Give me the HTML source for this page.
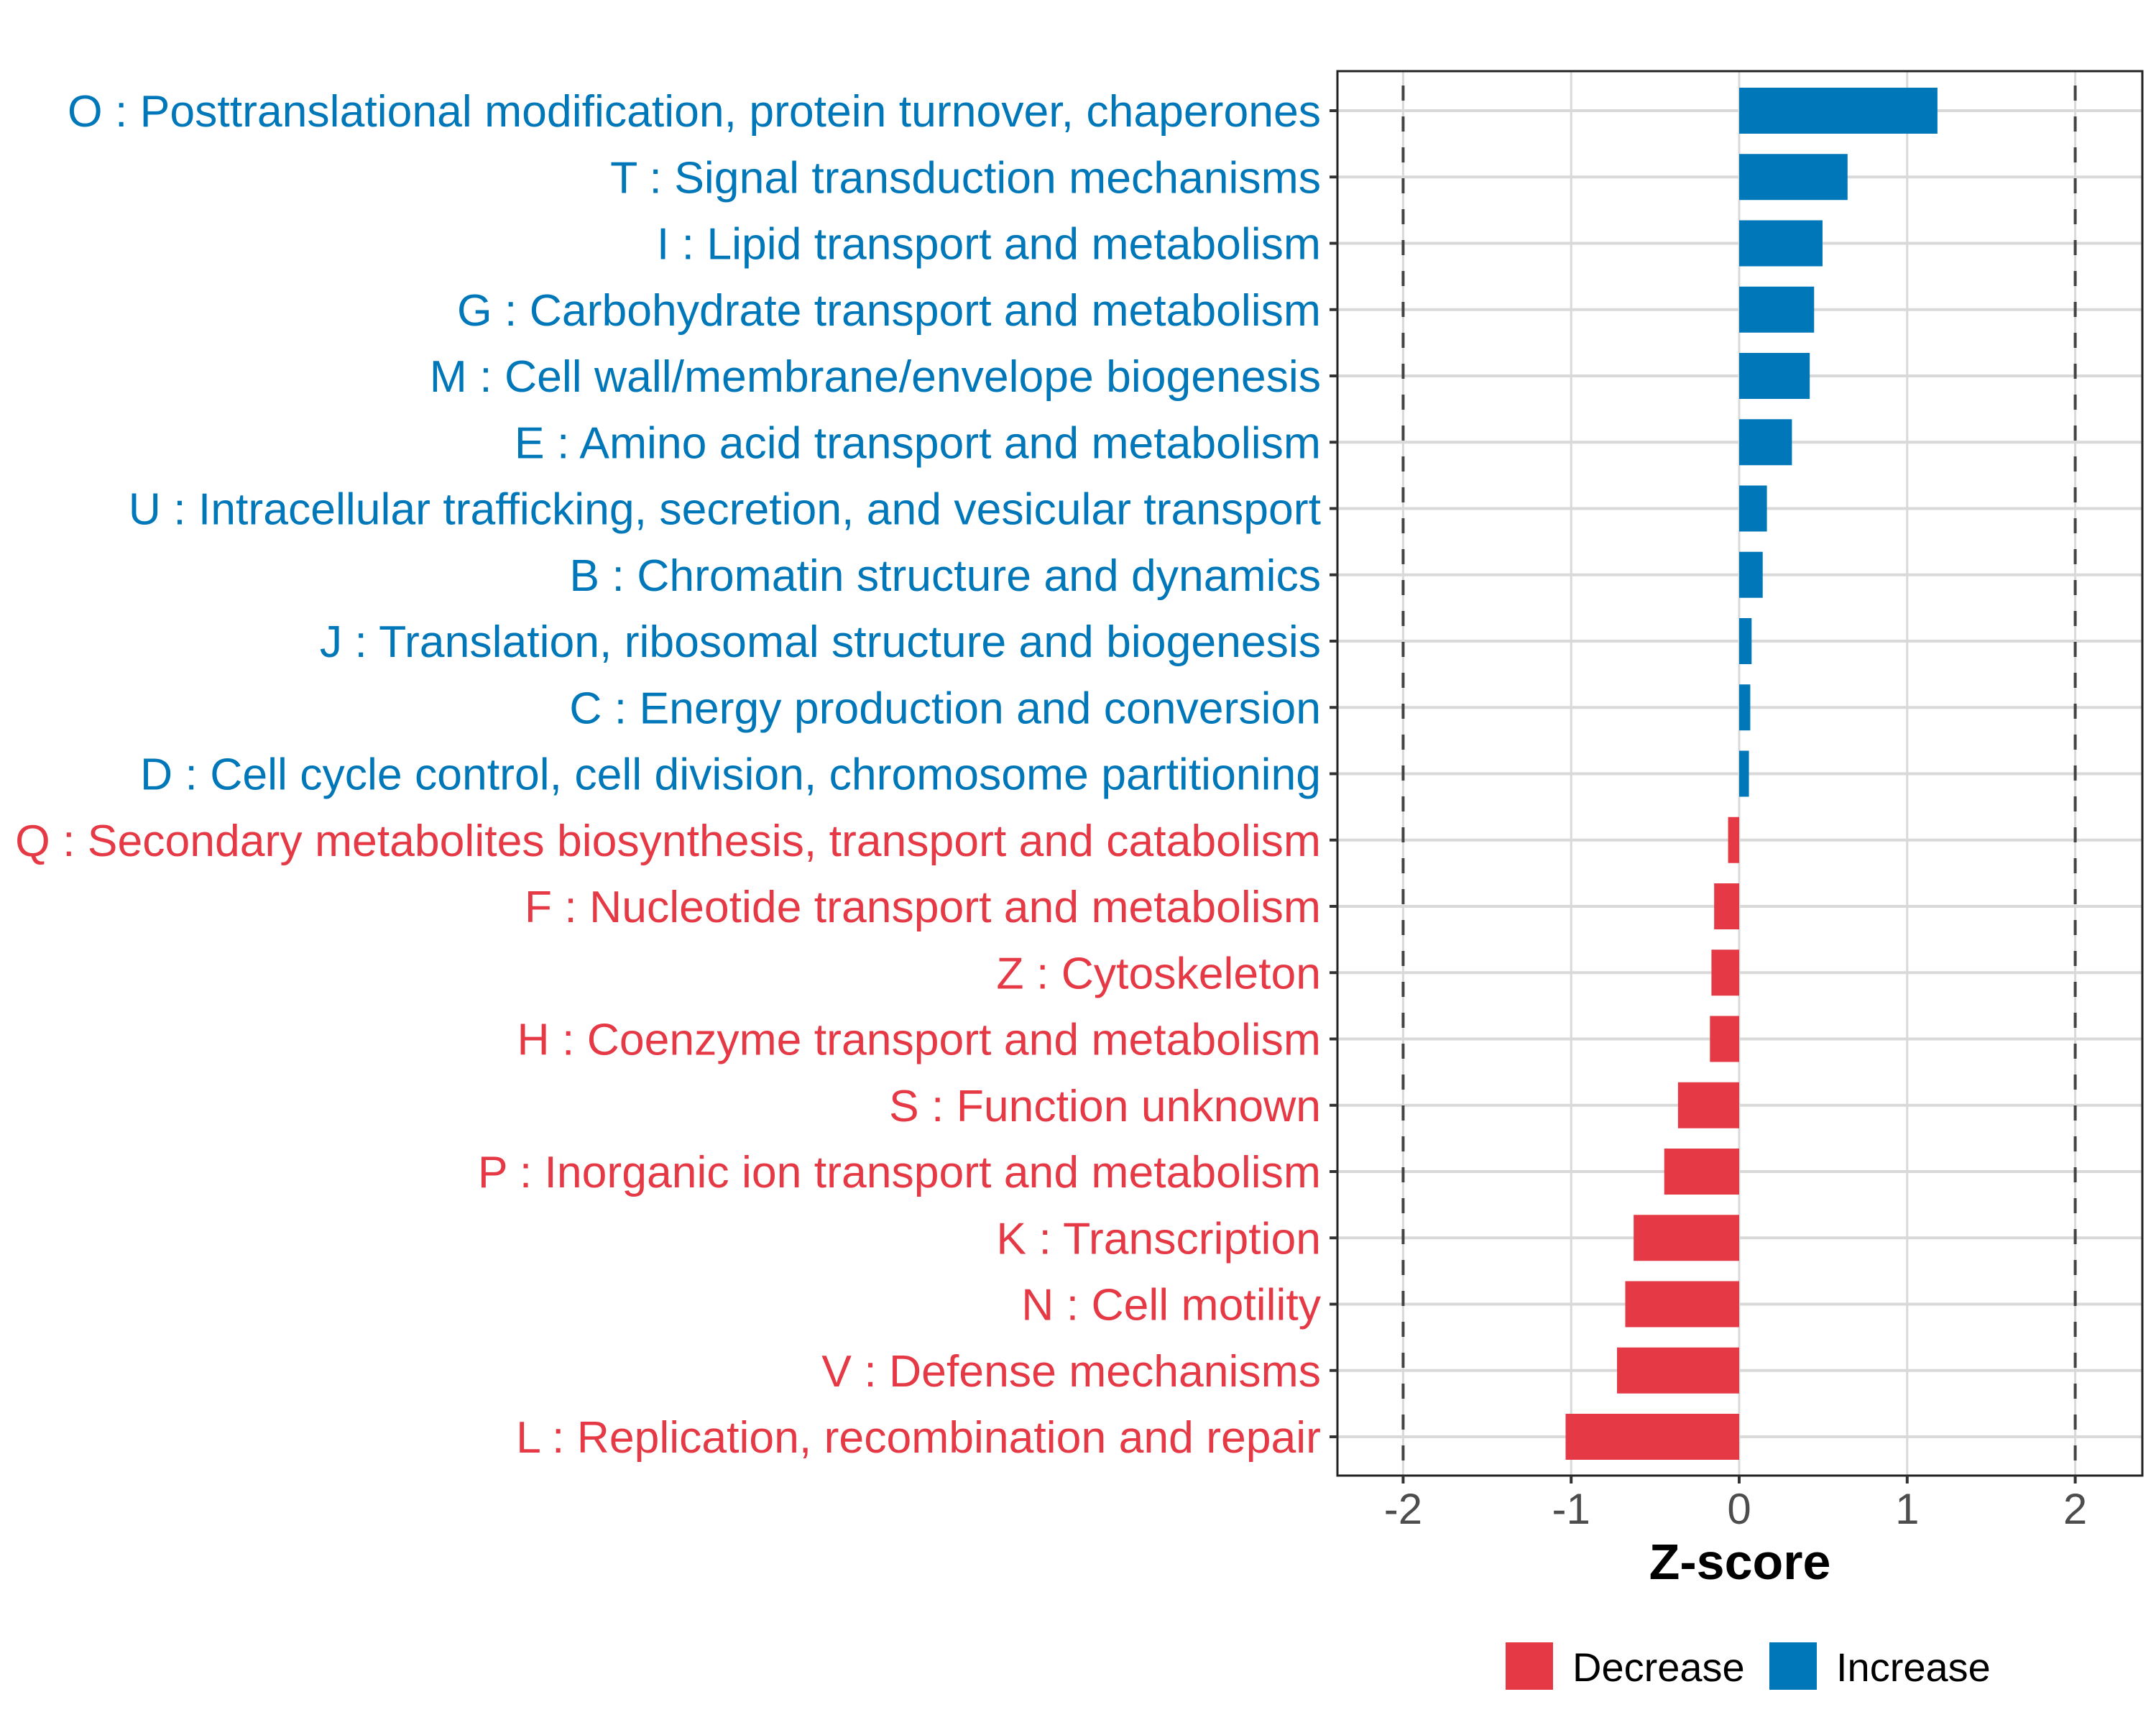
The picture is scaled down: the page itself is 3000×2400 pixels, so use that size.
<!DOCTYPE html>
<html><head><meta charset="utf-8"><style>
html,body{margin:0;padding:0;background:#fff;}
svg{display:block;font-family:"Liberation Sans",Arial,sans-serif;}
</style></head><body>
<svg id="chart" width="3000" height="2400" viewBox="0 0 3000 2400" xmlns="http://www.w3.org/2000/svg">
<rect x="0" y="0" width="3000" height="2400" fill="#fff"/>
<g id="grid"></g>
<g id="bars"></g>
<g id="refs"></g>
<rect x="1861" y="99" width="1120" height="1954" fill="none" stroke="#222" stroke-width="3"/>
<g id="ylabels"></g>
<g id="xticks"></g>
<text x="2421" y="2197" font-size="70" font-weight="bold" text-anchor="middle" fill="#000">Z-score</text>
<g>
<rect x="2095" y="2285" width="66" height="66" fill="#E63946"/>
<text x="2188" y="2339" font-size="56" fill="#000">Decrease</text>
<rect x="2462" y="2285" width="66" height="66" fill="#0077B8"/>
<text x="2555" y="2339" font-size="56" fill="#000">Increase</text>
</g>
</svg>
<script>
const categories = ["O : Posttranslational modification, protein turnover, chaperones","T : Signal transduction mechanisms","I : Lipid transport and metabolism","G : Carbohydrate transport and metabolism","M : Cell wall/membrane/envelope biogenesis","E : Amino acid transport and metabolism","U : Intracellular trafficking, secretion, and vesicular transport","B : Chromatin structure and dynamics","J : Translation, ribosomal structure and biogenesis","C : Energy production and conversion","D : Cell cycle control, cell division, chromosome partitioning","Q : Secondary metabolites biosynthesis, transport and catabolism","F : Nucleotide transport and metabolism","Z : Cytoskeleton","H : Coenzyme transport and metabolism","S : Function unknown","P : Inorganic ion transport and metabolism","K : Transcription","N : Cell motility","V : Defense mechanisms","L : Replication, recombination and repair"];
const zscores = [1.18,0.645,0.496,0.446,0.42,0.314,0.165,0.14,0.074,0.066,0.058,-0.066,-0.149,-0.165,-0.174,-0.364,-0.446,-0.628,-0.678,-0.727,-1.033];
const xTicks = [-2,-1,0,1,2];
const xTickLabels = ["-2","-1","0","1","2"];
const refLines = [-2,2];

const NS="http://www.w3.org/2000/svg";
const X0=2420, UNIT=233.8, Y0=154, STEP=92.25, BARH=64;
const xs=v=>X0+v*UNIT;
const ys=i=>Y0+i*STEP;
function mk(tag,attrs,parent){const e=document.createElementNS(NS,tag);for(const k in attrs)e.setAttribute(k,attrs[k]);parent.appendChild(e);return e;}
const grid=document.getElementById('grid'),bars=document.getElementById('bars'),refs=document.getElementById('refs'),yl=document.getElementById('ylabels'),xt=document.getElementById('xticks');
xTicks.forEach((t,i)=>{
  const l=mk('line',{x1:xs(t),x2:xs(t),y1:99,y2:2053,stroke:'#d9d9d9','stroke-width':3},grid);
  
  
  const tk=mk('line',{x1:xs(t),x2:xs(t),y1:2053,y2:2064,stroke:'#333','stroke-width':4},xt);
  
  
  const tx=mk('text',{x:xs(t),y:2120,'font-size':60,'text-anchor':'middle',fill:'#4d4d4d'},xt);
  tx.textContent=xTickLabels[i];
  
  
});
categories.forEach((c,i)=>{
  const y=ys(i);
  const g=mk('line',{x1:1861,x2:2981,y1:y,y2:y,stroke:'#d9d9d9','stroke-width':4},grid);
  
  
  const v=zscores[i];
  const col=v>=0?'#0077B8':'#E63946';
  const r=mk('rect',{x:Math.min(xs(0),xs(v)),y:y-BARH/2,width:Math.abs(xs(v)-xs(0)),height:BARH,fill:col},bars);
  
  
  const tk=mk('line',{x1:1850,x2:1861,y1:y,y2:y,stroke:'#333','stroke-width':4},yl);
  
  
  const t=mk('text',{x:1838,y:y+22,'font-size':62.5,'text-anchor':'end',fill:col},yl);
  t.textContent=c;
  
  
});
refLines.forEach(v=>{
  const l=mk('line',{x1:xs(v),x2:xs(v),y1:99,y2:2053,stroke:'#444','stroke-width':4,'stroke-dasharray':'21 22','stroke-dashoffset':'-20'},refs);
  
  
});
</script>
</body></html>
